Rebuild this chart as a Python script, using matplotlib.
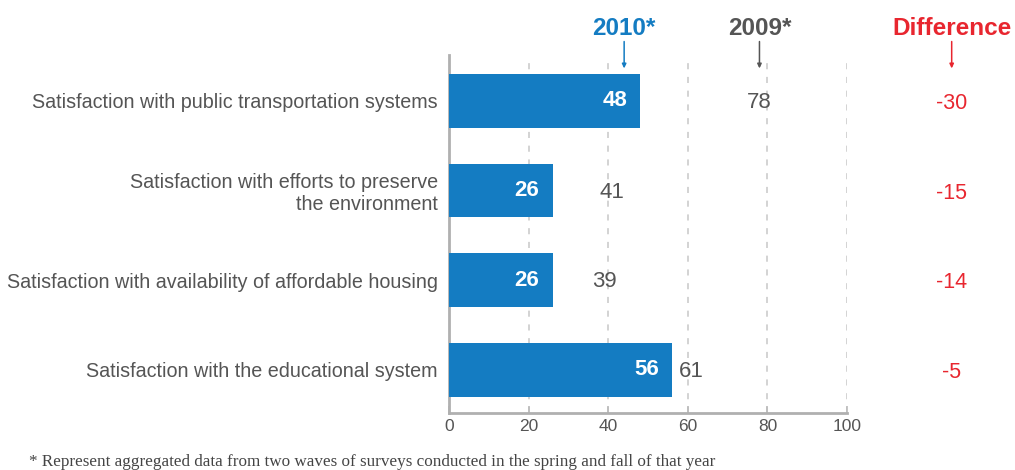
import matplotlib
matplotlib.use("Agg")
import matplotlib.pyplot as plt

# Survey results (percent satisfied)
categories = [
    "Satisfaction with public transportation systems",
    "Satisfaction with efforts to preserve\nthe environment",
    "Satisfaction with availability of affordable housing",
    "Satisfaction with the educational system",
]
values_2010 = [48, 26, 26, 56]
values_2009 = [78, 41, 39, 61]
differences = [-30, -15, -14, -5]
x_ticks = [0, 20, 40, 60, 80, 100]

BLUE = "#147cc2"
GRAY = "#555555"
RED = "#e8262f"
SANS = "Liberation Sans"

fig = plt.figure(figsize=(10.15, 4.7), dpi=100)
ax = fig.add_axes([0.4424, 0.1213, 0.3921, 0.7617])

ypos = list(range(len(categories)))
ax.barh(ypos, values_2010, height=0.6, color=BLUE, zorder=3)

ax.set_xlim(0, 100)
ax.set_ylim(3.48, -0.51)

ax.vlines(x_ticks[1:], 3.48, -0.43, color="#c8c8c8", lw=1.1,
          linestyles=[(0, (4, 5))], zorder=1)

for y, v10, v09, d in zip(ypos, values_2010, values_2009, differences):
    ax.text(v10 - 3.3, y, f"{v10}", color="white", fontsize=16, fontweight="bold",
            ha="right", va="center", family=SANS, zorder=4)
    ax.text(v09, y + 0.02, f"{v09}", color=GRAY, fontsize=16, ha="center", va="center",
            family=SANS, zorder=4)
    ax.text(126.3, y + 0.03, f"{d}", color=RED, fontsize=15.5, ha="center", va="center",
            family=SANS, clip_on=False)

# Column headers with arrows
headers = [("2010*", 44, BLUE), ("2009*", 78, GRAY), ("Difference", 126.3, RED)]
for label, x, col in headers:
    ax.text(x, -0.8, label, color=col, fontsize=17.5, fontweight="bold",
            ha="center", va="center", family=SANS, clip_on=False)
    ax.annotate("", xy=(x, -0.36), xytext=(x, -0.66), xycoords="data",
                arrowprops=dict(arrowstyle="-|>,head_length=0.25,head_width=0.12",
                                color=col, lw=1.1, shrinkA=0, shrinkB=0),
                annotation_clip=False)

ax.set_yticks(ypos)
ax.set_yticklabels(categories, fontsize=14.2, color="#555555", family=SANS,
                   ha="right", multialignment="right")
ax.tick_params(axis="y", length=0, pad=8)

ax.set_xticks(x_ticks)
ax.set_xticklabels([str(t) for t in x_ticks], fontsize=12.5, color="#555555", family=SANS)
ax.tick_params(axis="x", direction="in", length=5, width=1.2, colors="#bbbbbb",
               labelcolor="#555555", pad=4)

for side in ["top", "right"]:
    ax.spines[side].set_visible(False)
ax.spines["left"].set_color("#b0b0b0")
ax.spines["left"].set_linewidth(2)
ax.spines["bottom"].set_color("#b0b0b0")
ax.spines["bottom"].set_linewidth(2)

fig.text(0.029, 0.0, "* Represent aggregated data from two waves of surveys conducted in the spring and fall of that year",
         fontsize=12.35, color="#444444", family="Liberation Serif", ha="left", va="bottom")

fig.savefig("out.png", dpi=100, facecolor="white")
